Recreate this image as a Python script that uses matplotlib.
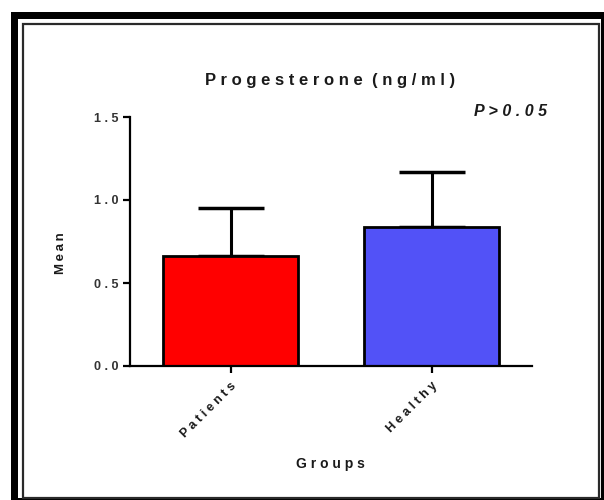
import matplotlib
matplotlib.use("Agg")
import matplotlib.pyplot as plt
from matplotlib.patches import Rectangle

groups = ["Patients", "Healthy"]
means = [0.66, 0.84]
sem = [0.29, 0.33]
colors = ["#FF0000", "#5252F7"]
yticks = [0.0, 0.5, 1.0, 1.5]
ytick_labels = ["0.0", "0.5", "1.0", "1.5"]
title = "Progesterone (ng/ml)"
ylabel = "Mean"
xlabel = "Groups"
ptext = "P>0.05"

def spaced(s, sep=" "):
    return sep.join(s)

W, H = 604, 500
fig = plt.figure(figsize=(W / 100, H / 100), dpi=100)
fig.patch.set_facecolor("white")

def fr(x0, y0, x1, y1):
    # pixel box (top-left origin) -> figure fraction
    return (x0 / W, 1 - y1 / H), (x1 - x0) / W, (y1 - y0) / H

# frame
(xy, w, h) = fr(11, 12, 604, 500)
fig.patches.append(Rectangle(xy, w, h, transform=fig.transFigure, facecolor="black", edgecolor="none", zorder=-10))
(xy, w, h) = fr(18, 19, 601, 498)
fig.patches.append(Rectangle(xy, w, h, transform=fig.transFigure, facecolor="white", edgecolor="none", zorder=-9))
(xy, w, h) = fr(22.5, 23.5, 599, 497.5)
fig.patches.append(Rectangle(xy, w, h, transform=fig.transFigure, facecolor="white", edgecolor="#2a2a2a", lw=1.6, zorder=-8))

font = ["Liberation Sans", "DejaVu Sans"]
tcol = "#1a1a1a"

ax = fig.add_axes([130 / W, 1 - 366 / H, (532 - 130) / W, (366 - 117) / H])
ax.set_zorder(5)
ax.patch.set_alpha(0)
x = list(range(len(groups)))
ax.bar(x, means, width=0.67, color=colors, edgecolor="black", linewidth=2, zorder=2)
ax.errorbar(x, means, yerr=[[0] * len(sem), sem], fmt="none", ecolor="black",
            elinewidth=2.2, capsize=24, capthick=2.5, zorder=1)
ax.set_xlim(-0.5, 1.5)
ax.set_ylim(0, 1.5)
ax.spines["top"].set_visible(False)
ax.spines["right"].set_visible(False)
ax.spines["left"].set_linewidth(1.6)
ax.spines["bottom"].set_linewidth(1.6)
ax.set_yticks(yticks)
ax.set_yticklabels([spaced(t) for t in ytick_labels], family=font, fontweight="bold",
                   fontsize=9, color="#333333")
ax.set_xticks(x)
ax.set_xticklabels([spaced(g) for g in groups], family=font, fontweight="bold",
                   fontsize=9, rotation=45, ha="right", rotation_mode="anchor", color=tcol)
ax.tick_params(axis="both", direction="out", length=5, width=1.6, pad=3)
ax.tick_params(axis="x", pad=5)

fig.text(330 / W, 1 - 80 / H, spaced(title).replace("   ", "  "), family=font, fontweight="bold",
         fontsize=12, ha="center", va="center", color=tcol)
fig.text(510 / W, 1 - 112 / H, spaced(ptext), family=font, fontweight="bold", style="italic",
         fontsize=11.5, ha="center", va="center", color=tcol)
fig.text(61 / W, 1 - 253 / H, spaced(ylabel, "\u2009"), family=font, fontweight="bold",
         fontsize=9.5, ha="center", va="center", rotation=90, color=tcol)
fig.text(330 / W, 1 - 464 / H, spaced(xlabel), family=font, fontweight="bold",
         fontsize=10, ha="center", va="center", color=tcol)

fig.savefig("out.png", dpi=100, facecolor="white")
